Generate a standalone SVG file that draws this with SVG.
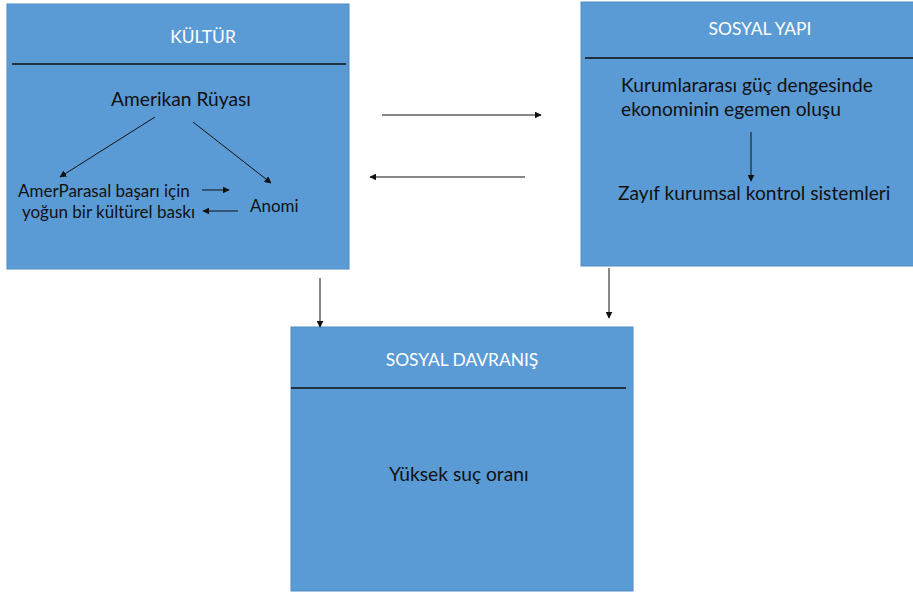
<svg xmlns="http://www.w3.org/2000/svg" width="913" height="597" viewBox="0 0 913 597">
<defs>
<style>
.box{fill:#5B9BD5;stroke:#4F8BC4;stroke-width:1}
.sep{stroke:#0D0D0D;stroke-width:1.6}
.title{font-family:Lato,"Open Sans","Liberation Sans",sans-serif;font-size:17.4px;fill:#FFFFFF;text-anchor:middle}
.body{font-family:Lato,"Open Sans","Liberation Sans",sans-serif;font-size:19.2px;fill:#111111}
.small{font-family:Lato,"Open Sans","Liberation Sans",sans-serif;font-size:17px;fill:#111111}
.conn{stroke:#111111;stroke-width:1;fill:none;marker-end:url(#ah)}
</style>
<marker id="ah" viewBox="0 0 10 10" refX="9" refY="5" markerWidth="7" markerHeight="7" markerUnits="userSpaceOnUse" orient="auto">
<path d="M0,0 L10,5 L0,10 z" fill="#111111"/>
</marker>
</defs>
<rect width="913" height="597" fill="#FFFFFF"/>
<g id="kultur">
<rect class="box" x="7" y="4" width="342" height="265"/>
<line class="sep" x1="12" y1="64" x2="346" y2="64"/>
<text class="title" x="203" y="43">KÜLTÜR</text>
<text class="body" x="181" y="106" text-anchor="middle">Amerikan Rüyası</text>
<text class="small" x="18" y="197">AmerParasal başarı için</text>
<text class="small" x="22" y="218">yoğun bir kültürel baskı</text>
<text class="small" x="250" y="212">Anomi</text>
</g>
<g id="sosyal-yapi">
<rect class="box" x="581" y="2" width="333" height="264"/>
<line class="sep" x1="585" y1="58" x2="913" y2="58"/>
<text class="title" x="760" y="35">SOSYAL YAPI</text>
<text class="body" x="621" y="92">Kurumlararası güç dengesinde</text>
<text class="body" x="621" y="116">ekonominin egemen oluşu</text>
<text class="body" x="618" y="200">Zayıf kurumsal kontrol sistemleri</text>
</g>
<g id="sosyal-davranis">
<rect class="box" x="291" y="327" width="342" height="264"/>
<line class="sep" x1="291" y1="388" x2="626" y2="388"/>
<text class="title" x="462" y="366">SOSYAL DAVRANIŞ</text>
<text class="body" x="389" y="481">Yüksek suç oranı</text>
</g>
<g id="connectors">
<line class="conn" x1="155" y1="117" x2="60" y2="177"/>
<line class="conn" x1="193" y1="122" x2="271" y2="183"/>
<line class="conn" x1="202" y1="190" x2="229" y2="190"/>
<line class="conn" x1="238" y1="211" x2="203" y2="211"/>
<line class="conn" x1="751" y1="132" x2="751" y2="181"/>
<line class="conn" x1="382" y1="115" x2="541" y2="115"/>
<line class="conn" x1="525" y1="177" x2="370" y2="177"/>
<line class="conn" x1="320" y1="278" x2="320" y2="327"/>
<line class="conn" x1="609" y1="268" x2="609" y2="318"/>
</g>
</svg>
